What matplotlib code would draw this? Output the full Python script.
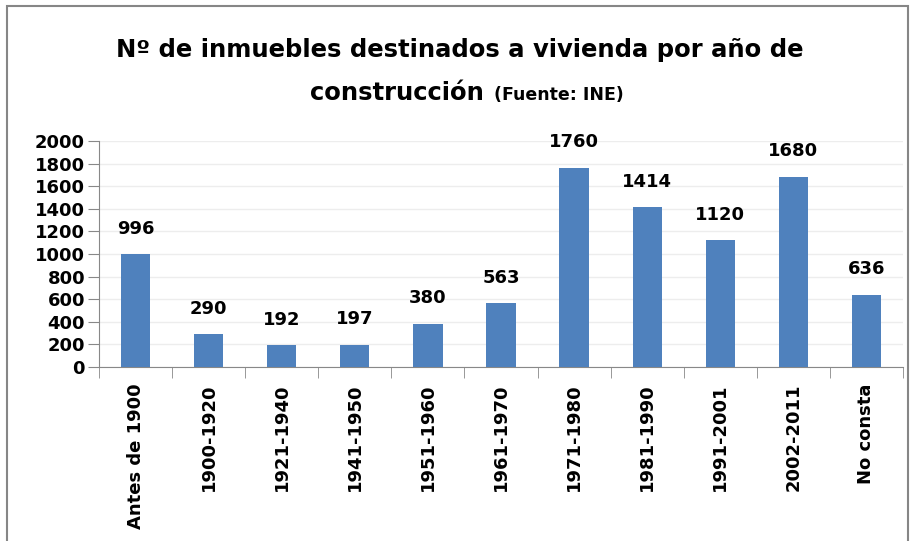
import matplotlib.pyplot as plt
from matplotlib.patches import Rectangle

categories = ["Antes de 1900", "1900-1920", "1921-1940", "1941-1950", "1951-1960",
              "1961-1970", "1971-1980", "1981-1990", "1991-2001", "2002-2011", "No consta"]
values = [996, 290, 192, 197, 380, 563, 1760, 1414, 1120, 1680, 636]
y_ticks = list(range(0, 2001, 200))

plt.rcParams["font.family"] = ["DejaVu Sans"]

fig = plt.figure(figsize=(9.19, 5.41), dpi=100)
W, H = 919, 541
ax = fig.add_axes([99 / W, 1 - 367 / H, (903 - 99) / W, (367 - 141) / H])

x = list(range(len(categories)))
ax.bar(x, values, width=0.4, color="#4F81BD", zorder=3)

# data labels above each bar
for xi, v in zip(x, values):
    ax.annotate(str(v), (xi, v), xytext=(0, 12), textcoords="offset points",
                ha="center", va="bottom", fontsize=13, fontweight="bold")

ax.set_xlim(-0.5, len(categories) - 0.5)
ax.set_ylim(0, 2000)
ax.set_yticks(y_ticks)
ax.set_yticklabels([str(t) for t in y_ticks], fontsize=13, fontweight="bold")
ax.yaxis.grid(True, color="#EDEDED", linewidth=1, zorder=0)

ax.set_xticks(x)
ax.set_xticklabels(categories, rotation=90, fontsize=13, fontweight="bold")
ax.set_xticks([i - 0.5 for i in range(len(categories) + 1)], minor=True)
ax.tick_params(axis="x", which="major", length=0, pad=12)
ax.tick_params(axis="x", which="minor", length=8, color="#888888", direction="out")
ax.tick_params(axis="y", length=8, color="#888888", direction="out", pad=2)

for side in ["top", "right"]:
    ax.spines[side].set_visible(False)
for side in ["left", "bottom"]:
    ax.spines[side].set_color("#888888")

fig.text(460 / W, 1 - 50 / H, "Nº de inmuebles destinados a vivienda por año de",
         ha="center", va="center", fontsize=17.5, fontweight="bold")
fig.text(310 / W, 1 - 93 / H, "construcción", ha="left", va="center",
         fontsize=17.5, fontweight="bold")
fig.text(494 / W, 1 - 95 / H, "(Fuente: INE)", ha="left", va="center",
         fontsize=12.5, fontweight="bold")

# chart frame
fig.patches.append(Rectangle((7 / W, -0.05), (908 - 7) / W, 1.05 - 6 / H,
                             transform=fig.transFigure, fill=False,
                             edgecolor="#868686", linewidth=1.5))

fig.savefig("out.png", dpi=100)
